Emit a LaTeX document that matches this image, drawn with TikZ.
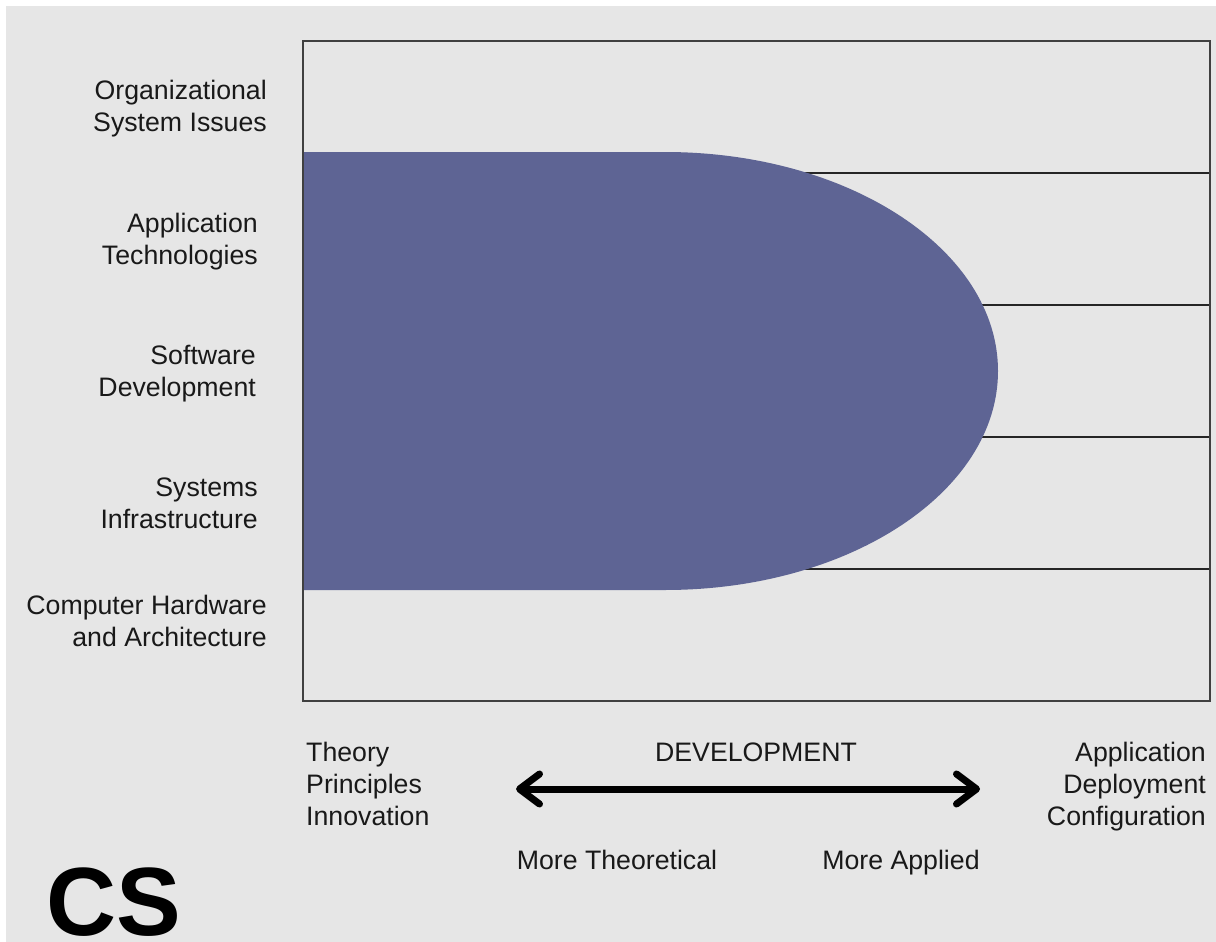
\documentclass[tikz,border=0pt]{standalone}
\usepackage{fontspec}
\setmainfont{Liberation Sans}
\usepackage{xcolor}
\usetikzlibrary{arrows.meta}
\definecolor{bandblue}{HTML}{5E6494}
\definecolor{panelgray}{HTML}{E6E6E6}

\begin{document}
\begin{tikzpicture}[x=1pt,y=-1pt,
    lbl/.style={font=\fontsize{26.7}{32}\selectfont, text=black!90, inner sep=0pt},
    rowline/.style={line width=1.5pt, black!85}]
    \useasboundingbox (0,0) rectangle (1216,942);
    \fill[white] (0,0) rectangle (1216,942);
    \fill[panelgray] (6,6) rectangle (1216,942);
    \foreach \y in {173,305,437,569}
      \draw[rowline] (303,\y) -- (1210,\y);
    \fill[bandblue] (303,152) -- (665,152)
      arc[start angle=90, end angle=-90, x radius=333pt, y radius=219pt]
      -- (303,590) -- cycle;
    \draw [line width=2pt, black!75] (303,41) rectangle (1210,701);
    \node[lbl, anchor=east, align=right] (orgsys) at (267,109) {Organizational\\System Issues};
    \node[lbl, anchor=east, align=right] (apptech) at (258,241.5) {Application\\Technologies};
    \node[lbl, anchor=east, align=right] (softdev) at (256,373.5) {Software\\Development};
    \node[lbl, anchor=east, align=right] (sysinfra) at (258,503) {Systems\\Infrastructure};
    \node[lbl, anchor=east, align=right] (hardarch) at (267,620.5) {Computer Hardware\\and Architecture};
    \node[lbl, anchor=west, align=left] (theory) at (306,784) {Theory\\Principles\\Innovation};
    \node[lbl, anchor=east, align=right] (applied) at (1206,787) {Application\\Deployment\\Configuration};
    \node[lbl] (devel) at (756,752) {DEVELOPMENT};
    \node[lbl] (moretheo) at (617,860) {More Theoretical};
    \node[lbl] (moreappl) at (901,862.5) {More Applied};
    \node[font=\fontsize{97}{97}\selectfont\bfseries, inner sep=0pt, anchor=west] (cs) at (46,902) {CS};
    \coordinate (lefttip) at (516,789);
    \coordinate (righttip) at (980,789);
    \draw [line width=7pt, {Straight Barb[length=20pt,width=30pt,line cap=round,line join=round]}-{Straight Barb[length=20pt,width=30pt,line cap=round,line join=round]}] (lefttip) -- (righttip);
  \end{tikzpicture}
\end{document}
